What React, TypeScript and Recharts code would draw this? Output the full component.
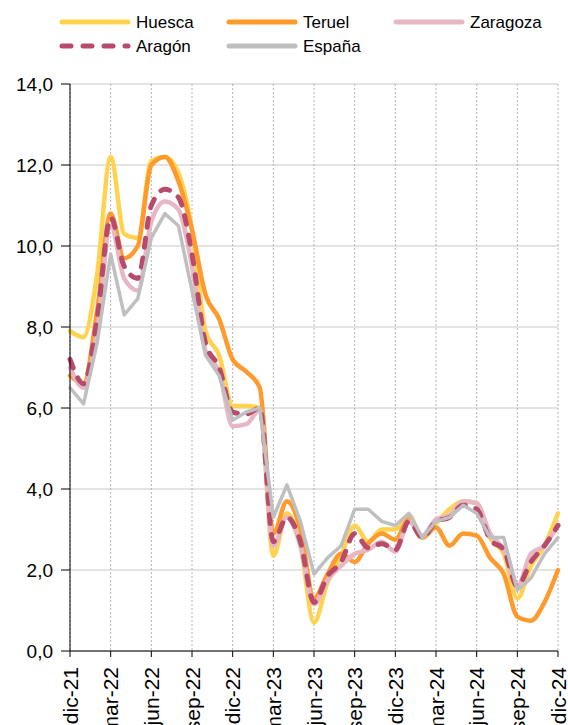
import React from 'react';
import { LineChart, Line, XAxis, YAxis, CartesianGrid } from 'recharts';

const months = ['dic-21','ene-22','feb-22','mar-22','abr-22','may-22','jun-22','jul-22','ago-22','sep-22','oct-22','nov-22','dic-22','ene-23','feb-23','mar-23','abr-23','may-23','jun-23','jul-23','ago-23','sep-23','oct-23','nov-23','dic-23','ene-24','feb-24','mar-24','abr-24','may-24','jun-24','jul-24','ago-24','sep-24','oct-24','nov-24','dic-24'];

const xTicks = ['dic-21','mar-22','jun-22','sep-22','dic-22','mar-23','jun-23','sep-23','dic-23','mar-24','jun-24','sep-24','dic-24'];
const yTicks = [0, 2, 4, 6, 8, 10, 12, 14];

const huesca = [7.9,7.75,9.3,12.2,10.3,10.2,12.1,12.2,11.8,10.4,7.9,7.3,6.05,6.05,6.0,2.35,3.4,2.6,0.7,1.7,2.35,3.1,2.7,3.0,3.0,3.35,2.8,3.15,3.5,3.7,3.65,2.8,2.4,1.3,2.1,2.6,3.4];
const teruel = [6.8,6.6,8.4,10.8,9.7,10.0,12.0,12.2,11.6,10.4,8.8,8.2,7.2,6.9,6.5,2.9,3.7,3.0,1.3,1.9,2.4,2.2,2.65,2.9,2.75,3.25,2.8,3.05,2.6,2.9,2.85,2.3,1.9,0.85,0.75,1.2,2.0];
const zaragoza = [7.0,6.5,7.9,10.5,9.2,8.9,10.6,11.1,10.9,9.5,7.4,6.9,5.55,5.6,5.95,2.6,3.3,2.6,1.15,1.75,2.1,2.4,2.5,2.7,2.45,3.2,2.85,3.25,3.35,3.7,3.65,2.9,2.5,1.6,2.4,2.6,3.1];
const aragon = [7.2,6.6,8.2,10.7,9.5,9.2,11.0,11.4,11.2,9.8,7.6,7.0,5.9,5.85,6.0,2.7,3.3,2.7,1.2,1.85,2.2,2.9,2.55,2.65,2.5,3.2,2.8,3.2,3.3,3.6,3.5,2.75,2.5,1.6,2.2,2.6,3.1];
const espana = [6.5,6.1,7.6,9.8,8.3,8.7,10.2,10.8,10.5,8.9,7.3,6.8,5.7,5.9,6.0,3.3,4.1,3.2,1.9,2.3,2.6,3.5,3.5,3.2,3.1,3.4,2.8,3.2,3.3,3.6,3.4,2.8,2.8,1.5,1.8,2.4,2.8];

const seriesNames = ['Huesca', 'Teruel', 'Zaragoza', 'Aragón', 'España'];
const seriesValues = [huesca, teruel, zaragoza, aragon, espana];

const styles: Record<string, any> = {
  'Huesca': { stroke: '#FFD34F', width: 4.5, type: 'monotone' },
  'Teruel': { stroke: '#FF9A2E', width: 4.5, type: 'monotone' },
  'Zaragoza': { stroke: '#E8B7C4', width: 4.5, type: 'monotone' },
  'Aragón': { stroke: '#B84B6B', width: 5, type: 'monotone', dash: '9 11' },
  'España': { stroke: '#BFBFBF', width: 3.5, type: 'linear' },
};

const data = months.map((m, i) => {
  const row: Record<string, any> = { month: m };
  seriesNames.forEach((n, k) => { row[n] = seriesValues[k][i]; });
  return row;
});

const FONT = '"Liberation Sans", Arial, sans-serif';

const fmt = (v: number) => v.toFixed(1).replace('.', ',');

const XTick = (props: any) => {
  const { x, y, payload } = props;
  return (
    <g transform={`translate(${x},${y})`}>
      <text transform="rotate(-90)" x={-8} y={0} dy="0.36em" textAnchor="end" fill="#000" fontSize={21} fontFamily={FONT}>
        {payload.value}
      </text>
    </g>
  );
};

const legendLayout = [
  { name: 'Huesca', x: 60, y: 22 },
  { name: 'Teruel', x: 227, y: 22 },
  { name: 'Zaragoza', x: 394, y: 22 },
  { name: 'Aragón', x: 60, y: 46 },
  { name: 'España', x: 227, y: 46 },
];

const LegendBox = () => (
  <svg width={568} height={60} style={{ position: 'absolute', left: 0, top: 0 }}>
    {legendLayout.map((l) => {
      const s = styles[l.name];
      return (
        <g key={l.name}>
          <line x1={l.x + 2} y1={l.y} x2={l.x + 68} y2={l.y} stroke={s.stroke} strokeWidth={s.dash ? 5 : 5}
            strokeLinecap="round" strokeDasharray={s.dash ? '9 12' : undefined} />
          <text x={l.x + 76} y={l.y} dy="0.36em" fontSize={17} fontFamily={FONT} fill="#000">{l.name}</text>
        </g>
      );
    })}
  </svg>
);

export default function App() {
  return (
    <div style={{ position: 'absolute', left: 0, top: 0, width: 568, height: 725, background: '#fff' }}>
      <LineChart width={568} height={725} data={data} margin={{ top: 84, right: 10, bottom: 0, left: 0 }}>
        <CartesianGrid horizontal={true} vertical={false} stroke="#C8C8C8" strokeWidth={1} />
        <CartesianGrid horizontal={false} vertical={true} stroke="#B4B4B4" strokeDasharray="2 2" strokeWidth={1} />
        <XAxis dataKey="month" ticks={xTicks} interval={0} height={74} tick={<XTick />}
          axisLine={{ stroke: '#000', strokeWidth: 1 }} tickLine={{ stroke: '#000' }} tickSize={6} tickMargin={2} />
        <YAxis domain={[0, 14]} ticks={yTicks} width={70} tickFormatter={fmt}
          tick={{ fill: '#000', fontSize: 19, fontFamily: FONT }}
          axisLine={{ stroke: '#000', strokeWidth: 1 }} tickLine={{ stroke: '#000' }} tickSize={9} tickMargin={8} />
        {seriesNames.map((n) => {
          const s = styles[n];
          return (
            <Line key={n} type={s.type} dataKey={n} stroke={s.stroke} strokeWidth={s.width}
              strokeDasharray={s.dash} strokeLinecap="round" strokeLinejoin="round"
              dot={false} activeDot={false} isAnimationActive={false} />
          );
        })}
      </LineChart>
      <LegendBox />
    </div>
  );
}
